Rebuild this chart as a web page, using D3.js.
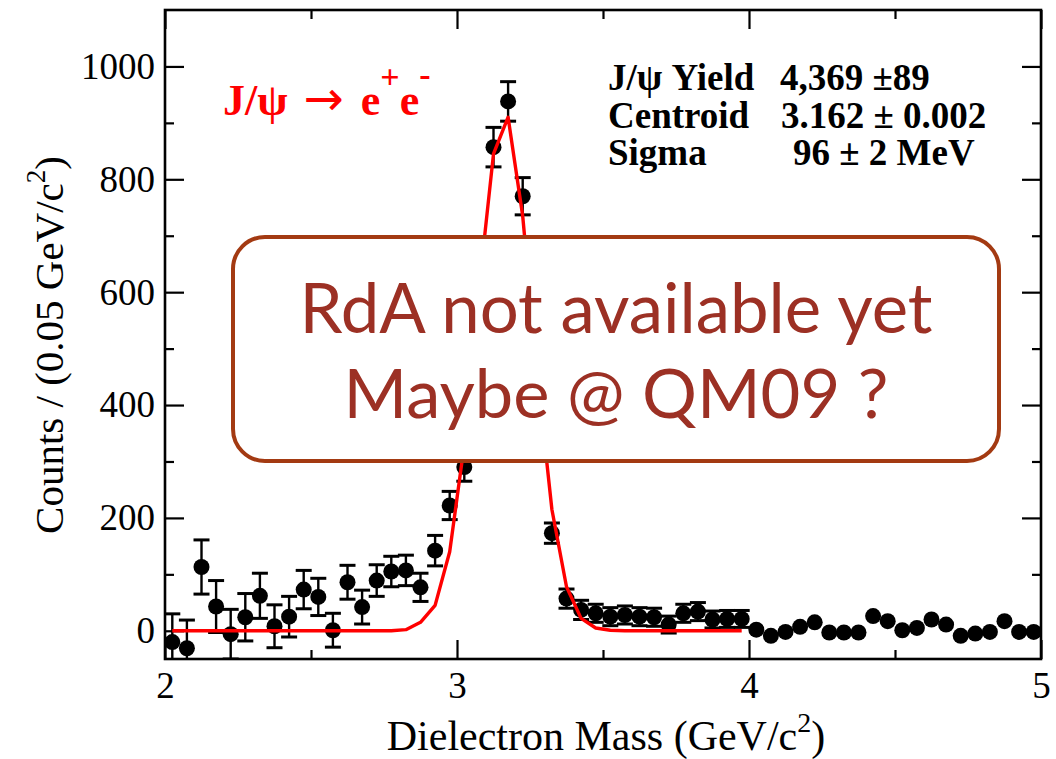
<!DOCTYPE html>
<html>
<head>
<meta charset="utf-8">
<script src="https://cdn.jsdelivr.net/npm/d3@7"></script>
<style>
  html, body { margin: 0; padding: 0; background: #fff; }
  svg { display: block; }
</style>
</head>
<body>
<svg id="chart" width="1056" height="759"></svg>
<script>
// Dielectron invariant-mass bins (GeV/c^2) with statistical error bars
const massErr = [2.025, 2.075, 2.125, 2.175, 2.225, 2.275, 2.325, 2.375, 2.425, 2.475,
                 2.525, 2.575, 2.625, 2.675, 2.725, 2.775, 2.825, 2.875, 2.925, 2.975,
                 3.025, 3.125, 3.175, 3.225, 3.325, 3.375, 3.425, 3.475, 3.525, 3.575,
                 3.625, 3.675, 3.725, 3.775, 3.825, 3.875, 3.925, 3.975];
// Counts per 0.05 GeV/c^2
const countsErr = [-20, -31, 113, 43, -6, 24, 62, 8, 25, 73,
                   60, 1, 86, 42, 89, 105, 107, 77, 142, 222,
                   290, 857, 938, 770, 173, 57, 37, 31, 25, 28,
                   25, 24, 11, 31, 34, 20, 21, 21];
const errors = [50, 50, 48, 46, 44, 42, 40, 38, 36, 34,
                33, 30, 30, 30, 28, 27, 27, 25, 27, 25,
                25, 35, 35, 33, 18, 17, 17, 16, 16, 16,
                16, 16, 15, 16, 16, 15, 15, 15];

// Bins above 4 GeV/c^2 (markers only)
const massHigh = [4.025, 4.075, 4.125, 4.175, 4.225, 4.275, 4.325, 4.375, 4.425, 4.475,
                  4.525, 4.575, 4.625, 4.675, 4.725, 4.775, 4.825, 4.875, 4.925, 4.975];
const countsHigh = [2, -9, -2, 7, 15, -3, -3, -3, 26, 17,
                    1, 5, 20, 11, -9, -5, -2, 17, -2, -2];

// Gaussian J/psi fit, sampled at the bin centres
const fitMass = [2.025, 2.075, 2.125, 2.175, 2.225, 2.275, 2.325, 2.375, 2.425, 2.475,
                 2.525, 2.575, 2.625, 2.675, 2.725, 2.775, 2.825, 2.875, 2.925, 2.975,
                 3.025, 3.075, 3.125, 3.175, 3.225, 3.275, 3.325, 3.375, 3.425, 3.475,
                 3.525, 3.575, 3.625, 3.675, 3.725, 3.775, 3.825, 3.875, 3.925, 3.975];
const fitCounts = [0, 0, 0, 0, 0, 0, 0, 0, 0, 0,
                   0, 0, 0, 0, 0, 0, 2, 15, 45, 140,
                   330, 605, 845, 910, 735, 455, 215, 78, 22, 5,
                   1, 0, 0, 0, 0, 0, 0, 0, 0, 0];

const xMajorTicks = [2, 3, 4, 5];
const xMinorTicks = [2.5, 3.5, 4.5];
const yMajorTicks = [0, 200, 400, 600, 800, 1000];
const yMinorTicks = [100, 300, 500, 700, 900];

const statLabels = ["J/\u03C8 Yield", "Centroid", "Sigma"];
const statValues = ["4,369 \u00B189", "3.162 \u00B1 0.002", "96 \u00B1 2 MeV"];
const boxLines = ["RdA not available yet", "Maybe @ QM09 ?"];

const svg = d3.select("#chart");
const serif = "'Liberation Serif', 'Times New Roman', serif";

const pLeft = 165, pRight = 1041, pTop = 10, pBottom = 659;
const x = d3.scaleLinear().domain([2, 5]).range([pLeft, pRight]);
const y = d3.scaleLinear().domain([-50, 1100]).range([pBottom, pTop]);

// ---- axes: inward ticks on all four sides ----
function styleAxis(g) {
  g.select(".domain").remove();
  g.selectAll(".tick line").attr("stroke", "#000").attr("stroke-width", 2.2);
  g.selectAll(".tick text").attr("fill", "#000")
    .style("font-family", serif).style("font-size", "37px");
}

svg.append("g").attr("transform", `translate(0,${pBottom})`)
  .call(d3.axisBottom(x).tickValues(xMajorTicks).tickSize(-19).tickPadding(13).tickFormat(d3.format("d")))
  .call(styleAxis);
svg.append("g").attr("transform", `translate(0,${pBottom})`)
  .call(d3.axisBottom(x).tickValues(xMinorTicks).tickSize(-9).tickFormat(""))
  .call(styleAxis);
svg.append("g").attr("transform", `translate(0,${pTop})`)
  .call(d3.axisTop(x).tickValues(xMajorTicks).tickSize(-19).tickFormat(""))
  .call(styleAxis);
svg.append("g").attr("transform", `translate(0,${pTop})`)
  .call(d3.axisTop(x).tickValues(xMinorTicks).tickSize(-9).tickFormat(""))
  .call(styleAxis);

svg.append("g").attr("transform", `translate(${pLeft},0)`)
  .call(d3.axisLeft(y).tickValues(yMajorTicks).tickSize(-19).tickPadding(10).tickFormat(d3.format("d")))
  .call(styleAxis);
svg.append("g").attr("transform", `translate(${pLeft},0)`)
  .call(d3.axisLeft(y).tickValues(yMinorTicks).tickSize(-9).tickFormat(""))
  .call(styleAxis);
svg.append("g").attr("transform", `translate(${pRight},0)`)
  .call(d3.axisRight(y).tickValues(yMajorTicks).tickSize(-19).tickFormat(""))
  .call(styleAxis);
svg.append("g").attr("transform", `translate(${pRight},0)`)
  .call(d3.axisRight(y).tickValues(yMinorTicks).tickSize(-9).tickFormat(""))
  .call(styleAxis);

// plot frame
svg.append("rect")
  .attr("x", pLeft).attr("y", pTop)
  .attr("width", pRight - pLeft).attr("height", pBottom - pTop)
  .attr("fill", "none").attr("stroke", "#000").attr("stroke-width", 2.6);

// ---- data points with error bars ----
svg.append("clipPath").attr("id", "plotClip")
  .append("rect").attr("x", pLeft).attr("y", pTop)
  .attr("width", pRight - pLeft).attr("height", pBottom - pTop);
const plot = svg.append("g").attr("clip-path", "url(#plotClip)");

const withErr = massErr.map((m, i) => ({ m, c: countsErr[i], e: errors[i] }));
const capHalf = 8;
const eb = plot.append("g").attr("stroke", "#000");
withErr.forEach(d => {
  const cx = x(d.m), y1 = y(d.c + d.e), y0 = y(d.c - d.e);
  eb.append("line").attr("x1", cx).attr("x2", cx).attr("y1", y1).attr("y2", y0).attr("stroke-width", 2.4);
  eb.append("line").attr("x1", cx - capHalf).attr("x2", cx + capHalf).attr("y1", y1).attr("y2", y1).attr("stroke-width", 3);
  eb.append("line").attr("x1", cx - capHalf).attr("x2", cx + capHalf).attr("y1", y0).attr("y2", y0).attr("stroke-width", 3);
});

const allPoints = withErr.concat(massHigh.map((m, i) => ({ m, c: countsHigh[i] })));
plot.append("g").selectAll("circle").data(allPoints).join("circle")
  .attr("cx", d => x(d.m)).attr("cy", d => y(d.c)).attr("r", 8).attr("fill", "#000");

// ---- fit curve ----
const fitLine = d3.line().x((d, i) => x(fitMass[i])).y(d => y(d));
plot.append("path").datum(fitCounts)
  .attr("d", fitLine).attr("fill", "none")
  .attr("stroke", "#ff0000").attr("stroke-width", 3.4).attr("stroke-linejoin", "round");

// ---- axis titles ----
const xt = svg.append("text").attr("x", 606).attr("y", 750).attr("text-anchor", "middle")
  .style("font-family", serif).style("font-size", "42px").attr("fill", "#000");
xt.append("tspan").text("Dielectron Mass (GeV/c");
xt.append("tspan").attr("dy", -18).style("font-size", "28px").text("2");
xt.append("tspan").attr("dy", 18).text(")");

const yt = svg.append("text").attr("transform", "translate(63,345) rotate(-90)").attr("text-anchor", "middle")
  .style("font-family", serif).style("font-size", "41px").attr("fill", "#000");
yt.append("tspan").text("Counts / (0.05 GeV/c");
yt.append("tspan").attr("dy", -18).style("font-size", "27px").text("2");
yt.append("tspan").attr("dy", 18).text(")");

// ---- decay channel label ----
const lab = svg.append("text").attr("x", 223).attr("y", 115)
  .style("font-family", serif).style("font-size", "44px").style("font-weight", "bold").attr("fill", "#ff0000");
lab.append("tspan").text("J/\u03C8 ");
lab.append("tspan").attr("dx", 5).style("font-family", "'DejaVu Sans', sans-serif").style("font-weight", "normal")
  .style("font-size", "48px").text("\u2192");
lab.append("tspan").attr("dx", 6).text(" e");
lab.append("tspan").attr("dy", -27).style("font-size", "34px").text("+");
lab.append("tspan").attr("dy", 27).text("e");
lab.append("tspan").attr("dy", -29).style("font-size", "34px").text("-");

// ---- fit results ----
const statX = [780, 781, 793];
const statY = [90, 128, 165];
const st = svg.append("g").style("font-family", serif).style("font-size", "37px")
  .style("font-weight", "bold").attr("fill", "#000");
statLabels.forEach((s, i) => {
  st.append("text").attr("x", 608).attr("y", statY[i]).text(s);
  st.append("text").attr("x", statX[i]).attr("y", statY[i]).text(statValues[i]);
});

// ---- notice box ----
svg.append("rect")
  .attr("x", 233).attr("y", 237).attr("width", 766).attr("height", 224)
  .attr("rx", 32).attr("ry", 32)
  .attr("fill", "#fff").attr("stroke", "#a33a12").attr("stroke-width", 4);

const boxY = [333, 418];
const boxW = [633, 545];
boxLines.forEach((s, i) => {
  const t = svg.append("text").attr("x", 616).attr("y", boxY[i]).attr("text-anchor", "middle")
    .style("font-family", "Lato, 'Open Sans', sans-serif").style("font-size", "60px")
    .attr("fill", "#9c3024").text(s);
  const w = t.node().getComputedTextLength();
  if (w > 0) t.style("font-size", (60 * boxW[i] / w).toFixed(1) + "px");
});
</script>
</body>
</html>
